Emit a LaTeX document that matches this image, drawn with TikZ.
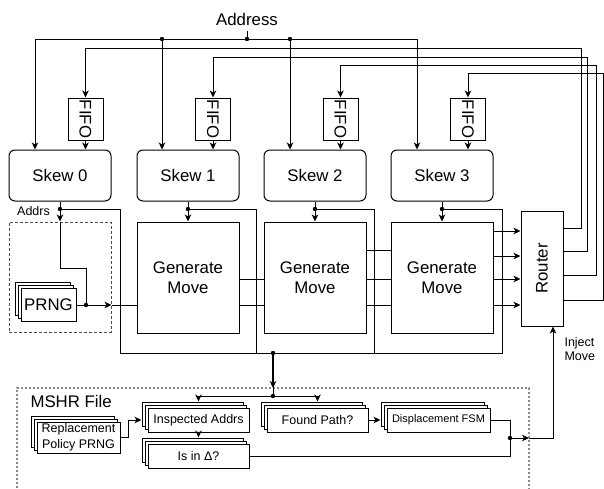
\documentclass[tikz,border=0pt]{standalone}
\usepackage{fontspec}
\setmainfont{Liberation Sans}
\usetikzlibrary{arrows.meta}
\tikzset{
  box/.style={draw=black, line width=1pt, fill=white, inner sep=0pt, align=center},
  big/.style={font=\fontsize{16.8}{20}\selectfont, align=center},
  small/.style={font=\fontsize{12.5}{15.5}\selectfont, align=center},
  tiny/.style={font=\fontsize{11}{13}\selectfont, align=center},
  arr/.style={-{Stealth[length=7pt,width=6.5pt,inset=2pt]}},
  wire/.style={line width=1pt},
  prngdash/.style={draw=black!70, line width=1pt, dash pattern=on 3pt off 2pt},
  mshrdash/.style={draw=black!45, line width=1.3pt, dash pattern=on 2pt off 2pt},
}
\newcommand{\stackednode}[7]{%
  \foreach \o in {6,3}{\draw[line width=1pt,fill=white] ({#2-#4/2-\o},{#3-#5/2-\o}) rectangle ++(#4,#5);}
  \node[box,minimum width=#4,minimum height=#5,#6] (#1) at (#2,#3) {#7};
}
\begin{document}
\begin{tikzpicture}[x=1pt,y=-1pt]
\useasboundingbox (0,0) rectangle (604,488);

% MSHR region and PRNG region
\draw[mshrdash] (17,492) -- (17,388) -- (529,388) -- (529,492);
\node[prngdash, minimum width=102, minimum height=110, inner sep=0pt] (pbox) at (60,277) {};

% Skew boxes
\foreach \n/\x in {0/60,1/188,2/315,3/442}{
  \node[box, big, rounded corners=6pt, minimum width=102, minimum height=51] (skew\n) at (\x,175.5) {Skew \n};
}
% Generate move boxes
\foreach \n/\x in {1/188,2/315,3/442}{
  \node[box, big, minimum width=102, minimum height=111] (gm\n) at (\x,277.5) {Generate\\Move};
}
% FIFO boxes
\foreach \n/\x in {0/85.5,1/213,2/340.5,3/468}{
  \node[box, minimum width=35, minimum height=42] (fifo\n) at (\x,119) {};
  \node[big, rotate=-90] at (fifo\n) {FIFO};
}
% Router
\node[box, minimum width=42, minimum height=115] (router) at (542,268.5) {};
\node[big, rotate=90] at (router) {Router};

% PRNG
\stackednode{prng}{48.5}{305}{55}{33}{big}{PRNG}

% Address bus
\node[big] (addr) at (247,19) {Address};
\coordinate (b0) at (35,39);
\coordinate (b1) at (162,39);
\coordinate (bA) at (247,39);
\coordinate (b2) at (290,39);
\coordinate (b3) at (417,39);
\draw[wire] (addr.south |- 0,31) -- (bA);
\draw[wire,arr] (b0) -- (b3) -- (b3 |- skew3.north);
\draw[wire,arr] (b0) -- (b0 |- skew0.north);
\draw[wire,arr] (b1) -- (b1 |- skew1.north);
\draw[wire,arr] (b2) -- (b2 |- skew2.north);
\foreach \c in {b1,bA,b2}{\fill (\c) circle (2.2pt);}

% Router feedback to FIFOs
\draw[wire,arr] (router.east |- 0,228) -- (581,228) -- (581,48) -| (fifo0.north);
\draw[wire,arr] (router.east |- 0,251) -- (587,251) -- (587,57) -| (fifo1.north);
\draw[wire,arr] (router.east |- 0,275) -- (596,275) -- (596,65) -| (fifo2.north);
\draw[wire,arr] (router.east |- 0,300) -- (603,300) -- (603,73) -| (fifo3.north);
\foreach \n in {0,1,2,3}{\draw[wire,arr] (fifo\n.south) -- (fifo\n.south |- skew\n.north);}

% Skew outputs
\coordinate (d0) at (60,209);
\coordinate (d1) at (188,209);
\coordinate (d2) at (315,209);
\coordinate (d3) at (442,209);
\coordinate (m) at (273,353);
\coordinate (m2) at (273,396);
\draw[wire] (skew0.south) -- (d0);
\draw[wire,arr] (d0) -- (pbox.north);
\draw[wire,arr] (skew1.south) -- (gm1.north);
\draw[wire,arr] (skew2.south) -- (gm2.north);
\draw[wire,arr] (skew3.south) -- (gm3.north);
\draw[wire] (d0) -- (120,209) -- (120,353) -- (m);
\draw[wire] (d1) -- (256,209) -- (256,353) -- (m);
\draw[wire] (d2) -- (374,209) -- (374,353) -- (m);
\draw[wire] (d3) -- (502,209) -- (502,353) -- (m);
\foreach \c in {d0,d1,d2,d3,m}{\fill (\c) circle (2.2pt);}
\node[small, anchor=center] (addrs) at (33.5,211) {Addrs};

% Inside PRNG region
\coordinate (j0) at (86,305);
\draw[wire] (pbox.north) -- (60,268) -- (86,268) -- (j0);
\draw[wire,arr] (prng.east) -- (pbox.east |- 0,305);
\draw[wire] (pbox.east |- 0,305) -- (gm1.west |- 0,305);
\fill (j0) circle (2.2pt);

% Generate move chain
\foreach \y in {279,305}{\draw[wire] (gm1.east |- 0,\y) -- (gm2.west |- 0,\y);}
\foreach \y in {250,279,305}{\draw[wire] (gm2.east |- 0,\y) -- (gm3.west |- 0,\y);}
\foreach \y in {231,256,279,305}{\draw[wire,arr] (gm3.east |- 0,\y) -- (router.west |- 0,\y);}

% MSHR file
\node[big, anchor=west] (mshr) at (27,401) {MSHR File};
\stackednode{rp}{78.5}{437.5}{83}{31}{small}{Replacement\\Policy PRNG}
\stackednode{ia}{198.5}{420}{101}{24}{small}{Inspected Addrs}
\stackednode{isd}{198.5}{456}{101}{24}{small}{Is in Δ?}
\stackednode{fp}{317.5}{420}{101}{24}{small}{Found Path?}
\stackednode{dfsm}{438.5}{420}{103}{24}{tiny}{Displacement FSM}

\draw[line width=2pt,arr] (m) -- (273,388);
\draw[wire] (273,386) -- (m2);
\draw[wire,arr] (m2) -| ([yshift=6pt]ia.north);
\draw[wire,arr] (m2) -| ([yshift=6pt]fp.north);
\fill (m2) circle (2.2pt);
\draw[wire,arr] (rp.east) -- (128,437.5) |- ([xshift=-6pt]ia.west);
\draw[wire,arr] (ia.south) -- ([yshift=6pt]isd.north);
\draw[wire,arr] (fp.east) -- ([xshift=-6pt]dfsm.west);
\coordinate (j1) at (510,438);
\coordinate (mb) at (529,438);
\draw[wire] (dfsm.east) -| (j1);
\draw[wire] (isd.east) -| (j1);
\draw[wire,arr] (j1) -- (mb);
\draw[wire,arr] (mb) -| ([xshift=11pt]router.south);
\fill (j1) circle (2.2pt);
\node[small, anchor=west, align=left, font=\fontsize{12.5}{14}\selectfont] (inj) at (561,349) {Inject\\Move};
\end{tikzpicture}
\end{document}
